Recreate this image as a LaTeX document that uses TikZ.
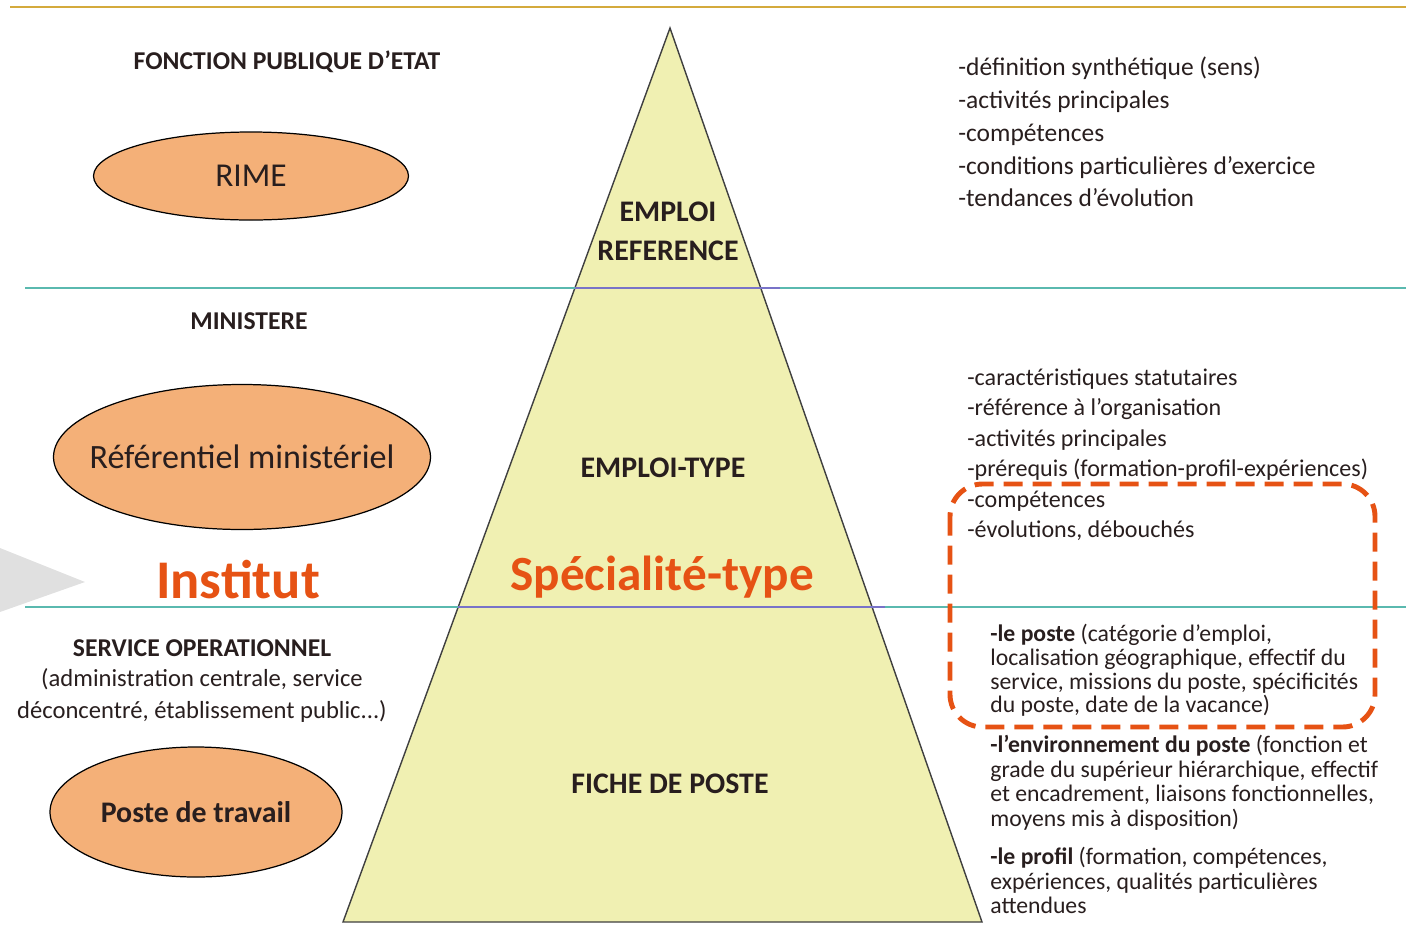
\documentclass[tikz,border=0pt]{standalone}
\usepackage{fontspec}
\setmainfont{Carlito}
\usetikzlibrary{shapes.geometric}

\definecolor{ink}{RGB}{40,30,30}
\definecolor{pyrfill}{RGB}{240,240,178}
\definecolor{bubblefill}{RGB}{244,176,120}
\definecolor{accentorange}{RGB}{230,82,20}
\definecolor{tealline}{RGB}{90,185,175}
\definecolor{violetline}{RGB}{120,115,200}
\definecolor{goldline}{RGB}{212,170,60}

\tikzset{
  header/.style={font=\bfseries\fontsize{14.6}{17}\selectfont, text=ink},
  subheader/.style={font=\fontsize{14}{18.2}\selectfont, text=ink, align=center},
  bubble/.style={ellipse, draw=black, fill=bubblefill, line width=0.7pt, inner sep=0pt},
  bubbletext/.style={text=ink, inner sep=0pt},
  tierlabel/.style={font=\bfseries\fontsize{17}{22}\selectfont, text=ink, align=center},
  accent/.style={font=\bfseries\fontsize{31}{36}\selectfont, text=accentorange},
  itemlist/.style={anchor=north west, align=left, inner sep=0pt, text=ink},
  divider/.style={draw=tealline, line width=1.3pt},
  tierline/.style={draw=violetline, line width=1.3pt},
  dashbox/.style={draw=accentorange, line width=2.8pt, dash pattern=on 3.8mm off 2mm, rounded corners=6.5mm},
}

\begin{document}
\begin{tikzpicture}[x=0.2mm,y=-0.2mm]
  \useasboundingbox (0,0) rectangle (1406,926);

  % top rule
  \draw[goldline, line width=1.2pt] (10,7) -- (1406,7);

  % grey arrow tip on the left
  \fill[gray!24] (0,548) -- (85,582) -- (0,612) -- cycle;

  % the pyramid
  \coordinate (apex) at (670,28);
  \coordinate (baseL) at (343,922);
  \coordinate (baseR) at (982,922);
  \filldraw[fill=pyrfill, draw=black!75, line width=0.8pt] (apex) -- (baseL) -- (baseR) -- cycle;

  % level separators
  \draw[divider] (25,288) -- (1406,288);
  \draw[divider] (25,607) -- (1406,607);
  \draw[tierline] (575,288) -- (780,288);
  \draw[tierline] (458,607) -- (885,607);

  % left column
  \node[header] (etat) at (287,62) {FONCTION PUBLIQUE D'ETAT};
  \node[bubble, minimum width=63mm, minimum height=17.6mm] (rime) at (251,176) {};
  \node[bubbletext, font=\fontsize{19}{22}\selectfont] (rimetext) at (rime) {RIME};

  \node[header] (ministere) at (249,321) {MINISTERE};
  \node[bubble, minimum width=75.4mm, minimum height=29mm] (refmin) at (242,457) {};
  \node[bubbletext, font=\fontsize{19.4}{22}\selectfont] (refmintext) at (refmin) {Référentiel ministériel};

  \node[accent] (institut) at (238,580) {Institut};

  \node[header] (service) at (202,648) {SERVICE OPERATIONNEL};
  \node[subheader] (servicedet) at (202,695) {(administration centrale, service\\déconcentré, établissement public...)};
  \node[bubble, minimum width=58.4mm, minimum height=26mm] (poste) at (196,812) {};
  \node[bubbletext, font=\bfseries\fontsize{17}{20}\selectfont] (postetext) at (poste) {Poste de travail};

  % inside the pyramid
  \node[tierlabel] (empref) at (668,231) {EMPLOI\\REFERENCE};
  \node[tierlabel] (emptype) at (663,468) {EMPLOI-TYPE};
  \node[accent, font=\bfseries\fontsize{28}{32}\selectfont] (specialite) at (662,577) {Spécialité-type};
  \node[tierlabel] (fiche) at (670,784) {FICHE DE POSTE};

  % right column
  \node[itemlist, font=\fontsize{14.5}{18.6}\selectfont] (listref) at (958,57) {-définition synthétique (sens)\\-activités principales\\-compétences\\-conditions particulières d'exercice\\-tendances d'évolution};

  \node[itemlist, font=\fontsize{13.7}{17.4}\selectfont] (listtype) at (967,368) {-caractéristiques statutaires\\-référence à l'organisation\\-activités principales\\-prérequis (formation-profil-expériences)\\-compétences\\-évolutions, débouchés};

  \node[itemlist, font=\fontsize{13.5}{13.5}\selectfont] (listposte) at (990,624) {\textbf{-le poste} (catégorie d'emploi,\\localisation géographique, effectif du\\service, missions du poste, spécificités\\du poste, date de la vacance)};

  \node[itemlist, font=\fontsize{13.5}{14}\selectfont] (listenv) at (990,735) {\textbf{-l'environnement du poste} (fonction et\\grade du supérieur hiérarchique, effectif\\et encadrement, liaisons fonctionnelles,\\moyens mis à disposition)};

  \node[itemlist, font=\fontsize{13.5}{14}\selectfont] (listprofil) at (990,847) {\textbf{-le profil} (formation, compétences,\\expériences, qualités particulières\\attendues};

  % highlight frame
  \draw[dashbox] (950,484) rectangle (1375,727);
\end{tikzpicture}
\end{document}
